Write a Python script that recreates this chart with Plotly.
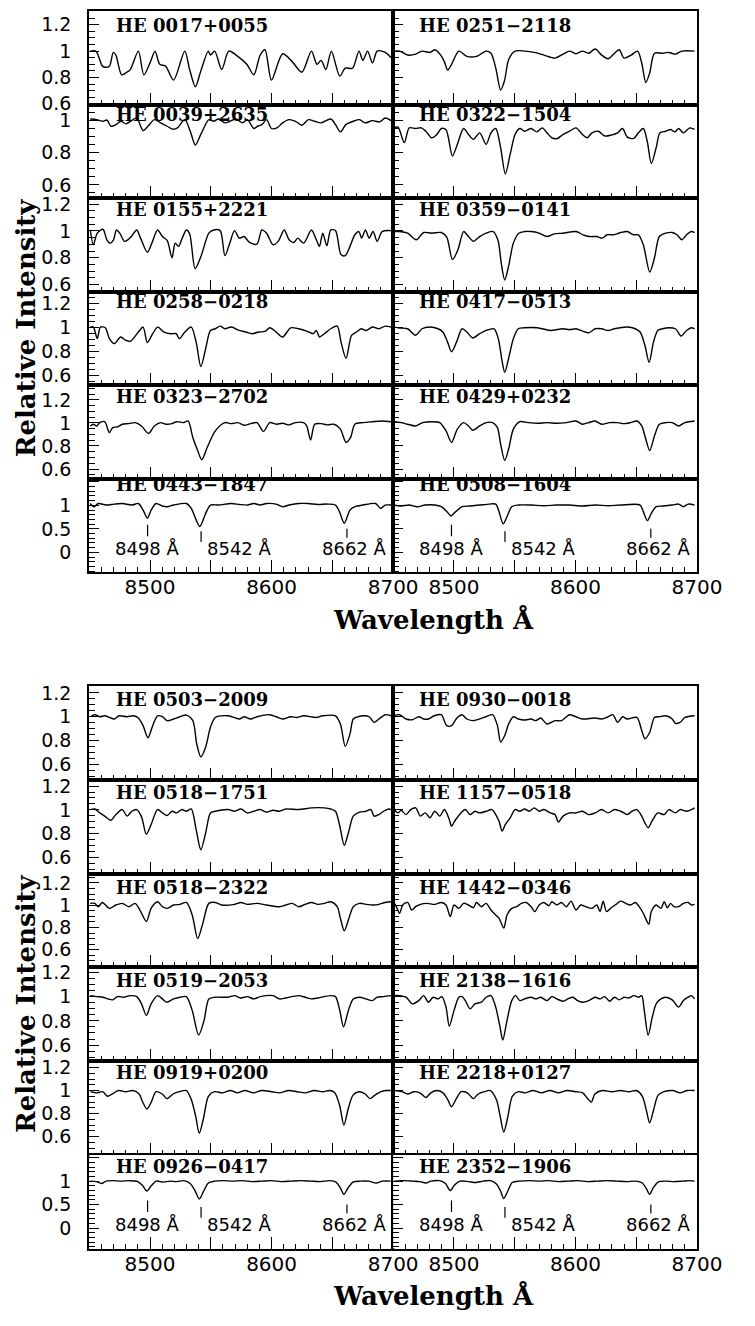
import plotly.graph_objects as go

FIG_W, FIG_H = 755, 1326

# ---------------------------------------------------------------------------
# Spectra: wavelength (Angstrom) and relative intensity for each star
# ---------------------------------------------------------------------------
he0017_wave = [8450.8, 8455.5, 8460.8, 8463.5, 8466.6, 8469.8, 8471.9, 8476.6, 8480.3, 8483.8,
               8490.4, 8494.9, 8500.4, 8504.1, 8508.0, 8512.8, 8519.4, 8528.6, 8532.6, 8537.3,
               8541.8, 8547.9, 8549.7, 8553.2, 8559.0, 8564.8, 8572.2, 8579.6, 8585.4, 8590.6,
               8594.6, 8599.9, 8609.1, 8617.0, 8624.9, 8632.8, 8637.3, 8640.8, 8644.7, 8649.2,
               8656.1, 8660.6, 8666.6, 8671.9, 8675.1, 8679.0, 8683.0, 8686.9, 8693.5, 8698.3]
he0017_flux = [1.000, 1.000, 0.886, 0.878, 0.886, 0.990, 0.970, 0.820, 0.836, 0.860,
               1.000, 0.820, 0.920, 1.000, 0.900, 0.886, 0.780, 1.000, 0.860, 0.730,
               0.850, 1.000, 0.970, 1.000, 0.860, 1.000, 0.960, 0.900, 0.820, 0.970,
               1.010, 0.780, 0.980, 0.920, 0.840, 1.000, 0.900, 0.930, 0.860, 1.000,
               0.810, 0.870, 0.870, 1.000, 0.930, 1.000, 0.910, 1.000, 0.990, 0.950]

he0251_wave = [8450.5, 8455.3, 8461.9, 8468.5, 8473.7, 8480.3, 8484.3, 8489.1, 8492.2, 8494.9,
               8498.0, 8504.1, 8510.7, 8518.6, 8526.5, 8530.5, 8534.4, 8538.4, 8541.6, 8545.0,
               8550.3, 8558.2, 8566.1, 8574.0, 8583.2, 8589.8, 8595.1, 8600.4, 8605.7, 8610.9,
               8616.2, 8621.5, 8626.8, 8632.1, 8636.0, 8640.0, 8645.8, 8651.1, 8654.5, 8657.9,
               8661.1, 8665.0, 8671.6, 8676.9, 8682.2, 8687.5, 8698.0]
he0251_flux = [1.000, 1.000, 0.970, 0.977, 1.000, 0.990, 1.010, 0.970, 0.918, 0.856,
               0.898, 1.000, 0.960, 0.960, 1.000, 0.984, 0.873, 0.705, 0.775, 0.935,
               1.000, 1.000, 0.990, 0.970, 0.947, 0.977, 1.000, 0.980, 1.000, 0.984,
               1.016, 0.970, 0.942, 0.984, 1.010, 0.947, 0.970, 1.000, 0.910, 0.762,
               0.836, 0.984, 0.984, 0.990, 0.977, 1.000, 1.000]

he0039_wave = [8450.8, 8456.1, 8461.3, 8464.5, 8467.9, 8471.9, 8475.9, 8480.3, 8485.1, 8489.1,
               8494.3, 8498.3, 8503.6, 8508.8, 8514.1, 8518.6, 8522.6, 8528.6, 8533.1, 8537.3,
               8541.8, 8548.4, 8552.4, 8556.3, 8561.6, 8565.8, 8570.8, 8576.1, 8580.1, 8585.4,
               8588.5, 8592.0, 8595.9, 8599.9, 8604.4, 8609.1, 8614.4, 8619.7, 8624.9, 8630.2,
               8635.5, 8640.8, 8648.7, 8652.6, 8656.6, 8661.1, 8667.2, 8672.4, 8676.9, 8683.0,
               8688.8, 8693.5, 8698.3]
he0039_flux = [1.010, 1.006, 0.996, 1.004, 0.965, 0.975, 0.996, 0.980, 1.002, 1.016,
               0.938, 0.965, 1.006, 0.986, 0.965, 0.947, 0.955, 1.006, 0.934, 0.848,
               0.914, 1.006, 0.996, 1.010, 0.986, 0.996, 1.010, 0.986, 1.006, 0.951,
               0.965, 0.975, 1.006, 0.951, 0.955, 0.986, 1.006, 0.996, 0.971, 1.006,
               0.996, 0.986, 1.010, 0.975, 0.930, 0.975, 0.996, 1.006, 0.986, 1.000,
               0.992, 1.016, 1.000]

he0322_wave = [8450.5, 8454.0, 8459.2, 8463.2, 8468.5, 8473.2, 8476.9, 8481.7, 8485.6, 8489.6,
               8493.5, 8498.8, 8502.8, 8508.0, 8512.0, 8516.0, 8521.2, 8526.5, 8530.5, 8534.4,
               8538.4, 8542.3, 8546.3, 8550.3, 8554.2, 8558.2, 8563.5, 8568.2, 8572.7, 8576.6,
               8580.6, 8585.1, 8589.8, 8595.1, 8600.4, 8605.7, 8609.6, 8613.6, 8618.9, 8624.1,
               8629.4, 8634.7, 8638.7, 8642.6, 8647.9, 8651.8, 8655.8, 8659.0, 8662.4, 8666.4,
               8669.5, 8674.3, 8678.2, 8681.7, 8684.8, 8688.8, 8694.1, 8698.0]
he0322_flux = [0.955, 0.959, 0.863, 0.955, 0.951, 0.955, 0.934, 0.893, 0.910, 0.951,
               0.943, 0.780, 0.852, 0.951, 0.914, 0.883, 0.924, 0.852, 0.924, 0.951,
               0.832, 0.668, 0.791, 0.914, 0.951, 0.934, 0.951, 0.930, 0.955, 0.924,
               0.893, 0.889, 0.914, 0.934, 0.955, 0.914, 0.893, 0.924, 0.934, 0.904,
               0.910, 0.924, 0.951, 0.897, 0.889, 0.924, 0.951, 0.873, 0.733, 0.832,
               0.924, 0.934, 0.945, 0.930, 0.951, 0.924, 0.955, 0.945]

he0155_wave = [8450.8, 8453.4, 8456.6, 8461.3, 8464.5, 8467.2, 8469.8, 8472.4, 8475.1, 8479.0,
               8482.5, 8485.1, 8489.1, 8492.2, 8497.8, 8501.5, 8506.2, 8510.2, 8514.1, 8518.1,
               8520.7, 8523.4, 8526.5, 8529.9, 8532.6, 8537.1, 8541.8, 8548.4, 8552.4, 8557.7,
               8561.6, 8565.6, 8569.5, 8573.5, 8577.4, 8581.9, 8588.0, 8592.0, 8595.9, 8601.2,
               8605.4, 8610.4, 8614.4, 8618.3, 8621.5, 8626.3, 8632.8, 8636.8, 8639.4, 8642.1,
               8645.5, 8648.7, 8652.6, 8657.1, 8660.6, 8664.5, 8668.5, 8671.9, 8674.0, 8677.2,
               8680.3, 8683.5, 8686.9, 8690.9, 8698.3]
he0155_flux = [1.007, 0.897, 0.983, 1.012, 0.934, 0.909, 0.929, 1.007, 0.983, 0.922,
               0.939, 0.963, 1.007, 0.946, 0.841, 0.909, 1.007, 0.958, 0.929, 0.800,
               0.909, 0.885, 0.946, 1.007, 0.978, 0.719, 0.807, 0.983, 1.007, 1.002,
               0.816, 0.909, 1.002, 0.946, 0.958, 0.914, 0.902, 1.007, 0.983, 0.897,
               0.922, 1.007, 0.934, 0.914, 0.946, 0.909, 1.007, 0.934, 0.885, 0.983,
               0.890, 1.007, 1.002, 0.824, 0.816, 0.885, 0.971, 0.995, 0.946, 1.007,
               0.946, 0.995, 0.922, 0.995, 1.002]

he0359_wave = [8450.5, 8455.3, 8461.9, 8469.0, 8475.1, 8481.7, 8489.6, 8494.1, 8498.8, 8503.3,
               8508.0, 8512.0, 8516.0, 8521.2, 8526.5, 8532.3, 8536.3, 8538.9, 8541.8, 8545.0,
               8548.9, 8553.4, 8558.2, 8563.5, 8570.1, 8576.6, 8582.5, 8589.8, 8600.4, 8606.2,
               8611.5, 8617.5, 8622.0, 8626.0, 8631.5, 8637.3, 8642.6, 8647.9, 8651.8, 8655.8,
               8661.1, 8665.0, 8669.0, 8674.3, 8679.6, 8683.5, 8687.5, 8691.4, 8695.4, 8698.0]
he0359_flux = [0.995, 0.995, 0.983, 0.934, 0.988, 0.983, 0.988, 0.953, 0.787, 0.860,
               0.995, 0.958, 0.922, 0.958, 0.983, 0.995, 0.929, 0.763, 0.635, 0.738,
               0.909, 0.983, 0.995, 0.995, 0.983, 0.958, 0.978, 0.983, 0.995, 0.971,
               0.958, 0.958, 0.946, 0.971, 0.971, 0.988, 0.995, 0.971, 0.971, 0.897,
               0.694, 0.800, 0.958, 0.983, 0.988, 0.971, 0.934, 0.971, 0.995, 0.988]

he0258_wave = [8450.8, 8453.4, 8456.6, 8459.2, 8463.2, 8466.6, 8470.6, 8475.9, 8479.8, 8483.8,
               8490.4, 8494.3, 8497.8, 8502.2, 8506.2, 8511.5, 8516.8, 8521.5, 8524.1, 8528.6,
               8533.9, 8537.9, 8541.8, 8545.8, 8549.7, 8553.7, 8557.7, 8561.6, 8566.9, 8573.5,
               8578.8, 8584.0, 8589.3, 8594.6, 8598.5, 8603.8, 8609.1, 8615.7, 8622.3, 8628.9,
               8634.2, 8636.8, 8639.4, 8643.4, 8648.7, 8654.0, 8657.1, 8661.3, 8665.8, 8669.8,
               8673.7, 8677.7, 8683.0, 8688.3, 8693.5, 8698.3]
he0258_flux = [1.003, 1.003, 0.907, 1.003, 0.997, 0.907, 0.866, 0.921, 0.894, 0.885,
               0.962, 1.003, 0.875, 0.948, 1.003, 0.962, 0.948, 0.948, 0.907, 0.962,
               1.003, 0.880, 0.675, 0.825, 0.975, 0.989, 1.011, 0.989, 1.003, 0.975,
               0.962, 0.948, 0.962, 0.967, 0.997, 0.962, 0.921, 0.997, 0.989, 0.970,
               0.948, 0.975, 0.921, 0.948, 0.989, 1.011, 0.880, 0.744, 0.935, 0.962,
               0.989, 0.975, 1.003, 0.989, 1.011, 1.003]

he0417_wave = [8450.5, 8455.3, 8461.9, 8468.5, 8473.7, 8480.3, 8486.9, 8490.9, 8494.9, 8498.0,
               8502.2, 8506.7, 8510.7, 8515.4, 8521.2, 8526.5, 8533.1, 8536.5, 8539.7, 8541.8,
               8545.0, 8548.9, 8552.9, 8558.2, 8568.7, 8579.3, 8589.8, 8595.1, 8600.4, 8605.7,
               8610.9, 8616.2, 8621.5, 8626.8, 8632.1, 8642.6, 8649.2, 8653.2, 8657.1, 8660.6,
               8664.2, 8667.7, 8671.6, 8676.9, 8682.2, 8686.9, 8691.4, 8695.4, 8698.0]
he0417_flux = [1.003, 0.995, 0.989, 0.935, 0.989, 1.003, 0.989, 0.962, 0.875, 0.798,
               0.880, 0.989, 0.962, 0.913, 0.948, 0.975, 0.989, 0.907, 0.716, 0.629,
               0.744, 0.907, 0.989, 0.997, 0.997, 0.975, 0.989, 0.981, 0.989, 0.970,
               0.956, 0.989, 0.989, 0.975, 0.989, 1.003, 0.989, 0.962, 0.853, 0.711,
               0.880, 0.975, 0.989, 0.997, 0.989, 0.929, 0.975, 0.997, 0.989]

he0323_wave = [8450.8, 8453.4, 8456.1, 8458.7, 8462.7, 8466.6, 8469.3, 8473.2, 8477.2, 8482.5,
               8487.7, 8493.0, 8498.8, 8503.6, 8508.8, 8512.8, 8518.1, 8522.0, 8527.3, 8531.3,
               8535.2, 8539.2, 8542.6, 8547.1, 8553.7, 8561.6, 8566.9, 8572.2, 8577.4, 8582.7,
               8588.0, 8593.3, 8598.5, 8603.8, 8609.1, 8614.4, 8619.7, 8626.3, 8628.9, 8632.1,
               8635.5, 8640.8, 8646.0, 8651.3, 8656.6, 8661.3, 8665.0, 8668.5, 8675.1, 8683.0,
               8690.9, 8698.3]
he0323_flux = [0.974, 0.989, 0.974, 1.003, 1.011, 0.917, 0.960, 0.966, 0.989, 0.994,
               1.003, 0.974, 0.909, 0.974, 1.003, 0.989, 0.994, 1.011, 1.003, 1.017,
               0.874, 0.760, 0.680, 0.789, 0.931, 1.003, 0.994, 1.003, 0.980, 0.994,
               1.003, 0.926, 1.003, 0.989, 0.997, 0.983, 1.003, 1.003, 0.974, 0.851,
               0.989, 0.994, 0.983, 0.989, 0.946, 0.831, 0.874, 0.989, 1.003, 1.011,
               1.017, 1.011]

he0429_wave = [8450.5, 8456.6, 8461.9, 8468.5, 8474.3, 8481.7, 8488.3, 8493.5, 8498.0, 8502.8,
               8508.0, 8512.0, 8515.4, 8521.2, 8526.5, 8531.8, 8535.8, 8538.4, 8541.8, 8545.0,
               8548.9, 8554.2, 8560.8, 8568.7, 8576.6, 8584.6, 8592.5, 8600.4, 8605.7, 8610.9,
               8616.2, 8621.5, 8628.1, 8634.7, 8640.0, 8645.3, 8650.5, 8654.5, 8657.1, 8661.1,
               8665.0, 8669.0, 8674.3, 8679.6, 8684.8, 8690.1, 8698.0]
he0429_flux = [1.011, 1.003, 0.989, 0.974, 1.003, 1.011, 1.003, 0.931, 0.831, 0.946,
               1.003, 0.974, 0.937, 0.974, 1.003, 1.003, 0.960, 0.817, 0.674, 0.774,
               0.946, 1.011, 1.003, 0.997, 1.003, 0.997, 1.003, 1.017, 0.989, 1.003,
               1.017, 0.989, 1.003, 1.003, 0.994, 1.003, 1.017, 0.974, 0.889, 0.760,
               0.889, 0.989, 1.003, 1.003, 0.974, 1.003, 1.017]

he0443_wave = [8450.8, 8454.0, 8457.4, 8464.0, 8470.6, 8477.2, 8485.1, 8490.4, 8494.3, 8497.8,
               8500.9, 8504.9, 8510.2, 8514.1, 8519.4, 8529.9, 8533.9, 8537.9, 8541.0, 8545.8,
               8549.7, 8556.3, 8566.9, 8573.5, 8580.1, 8585.4, 8590.6, 8595.9, 8603.8, 8609.1,
               8614.4, 8622.3, 8630.2, 8638.1, 8646.0, 8652.6, 8655.8, 8659.8, 8664.5, 8668.5,
               8675.1, 8685.6, 8689.6, 8693.5, 8698.3]
he0443_flux = [1.040, 0.970, 1.040, 1.007, 1.028, 1.040, 1.007, 1.040, 0.900, 0.726,
               0.900, 1.040, 0.986, 0.972, 1.007, 1.040, 0.937, 0.691, 0.550, 0.830,
               1.007, 1.007, 1.040, 1.020, 1.007, 1.040, 1.007, 1.040, 1.028, 0.972,
               1.007, 1.040, 1.040, 1.020, 1.028, 1.007, 0.867, 0.621, 0.900, 0.972,
               1.007, 1.040, 0.937, 1.007, 1.007]

he0508_wave = [8450.5, 8456.6, 8463.2, 8469.8, 8476.4, 8484.3, 8489.6, 8494.3, 8497.5, 8501.5,
               8506.7, 8513.3, 8521.2, 8529.2, 8534.4, 8537.1, 8540.5, 8543.7, 8547.6, 8552.9,
               8563.5, 8574.0, 8584.6, 8595.1, 8605.7, 8616.2, 8626.8, 8637.3, 8653.2, 8655.8,
               8659.2, 8662.4, 8666.4, 8671.6, 8679.6, 8684.8, 8688.8, 8692.7, 8698.0]
he0508_flux = [1.007, 0.986, 1.007, 0.972, 1.007, 1.007, 0.972, 0.867, 0.775, 0.867,
               0.972, 0.986, 1.007, 1.028, 1.028, 0.867, 0.607, 0.761, 0.972, 1.007,
               1.007, 0.993, 1.007, 1.007, 0.986, 1.007, 0.993, 1.007, 1.007, 0.867,
               0.677, 0.832, 0.972, 0.986, 1.007, 1.028, 0.972, 1.028, 1.007]

he0503_wave = [8450.8, 8454.7, 8458.7, 8462.7, 8466.6, 8470.6, 8474.5, 8481.1, 8486.4, 8490.4,
               8494.3, 8498.3, 8502.2, 8506.2, 8510.2, 8514.1, 8519.4, 8524.7, 8529.9, 8535.2,
               8538.4, 8541.8, 8545.8, 8549.7, 8553.7, 8564.2, 8573.5, 8577.4, 8582.7, 8588.0,
               8598.5, 8603.8, 8609.1, 8615.7, 8621.0, 8626.3, 8636.8, 8642.1, 8652.6, 8656.6,
               8660.6, 8664.5, 8667.2, 8671.1, 8676.4, 8680.3, 8684.3, 8688.3, 8693.5, 8698.3]
he0503_flux = [1.000, 1.017, 1.000, 1.008, 0.994, 0.981, 1.008, 1.000, 1.008, 0.989,
               0.925, 0.823, 0.925, 1.008, 1.000, 0.967, 0.981, 1.000, 1.014, 0.967,
               0.773, 0.663, 0.746, 0.911, 0.994, 1.008, 0.981, 1.000, 0.981, 1.000,
               1.017, 1.000, 0.981, 1.000, 0.994, 1.008, 0.994, 1.008, 1.008, 0.939,
               0.751, 0.856, 0.981, 1.000, 1.008, 1.000, 0.953, 0.981, 1.017, 1.008]

he0930_wave = [8450.5, 8455.3, 8460.6, 8465.8, 8471.1, 8475.1, 8479.0, 8483.8, 8489.6, 8494.1,
               8498.0, 8502.8, 8506.7, 8510.7, 8516.0, 8522.6, 8526.5, 8531.8, 8535.8, 8538.4,
               8541.8, 8545.0, 8548.9, 8552.9, 8558.2, 8563.5, 8567.4, 8571.4, 8576.6, 8583.2,
               8588.5, 8595.1, 8600.4, 8605.7, 8616.2, 8621.5, 8626.8, 8630.7, 8634.7, 8638.7,
               8642.6, 8650.5, 8654.5, 8657.1, 8661.1, 8665.0, 8669.0, 8674.3, 8679.6, 8682.2,
               8686.1, 8690.1, 8698.0]
he0930_flux = [1.008, 1.017, 0.981, 0.975, 1.000, 0.981, 0.981, 1.008, 1.017, 0.925,
               0.925, 0.994, 1.017, 0.981, 0.967, 0.986, 1.000, 1.017, 0.925, 0.787,
               0.842, 0.939, 1.000, 0.981, 0.972, 0.981, 0.967, 0.989, 0.939, 0.967,
               0.967, 1.017, 1.000, 0.981, 0.989, 0.981, 1.000, 1.017, 0.953, 1.000,
               0.981, 0.994, 0.884, 0.815, 0.870, 0.994, 1.000, 1.008, 0.981, 0.945,
               0.953, 0.994, 1.008]

he0518a_wave = [8450.8, 8454.7, 8458.7, 8462.7, 8467.9, 8471.9, 8477.2, 8481.1, 8485.1, 8489.1,
                8493.0, 8497.0, 8500.9, 8506.2, 8510.2, 8514.1, 8518.1, 8522.0, 8526.0, 8529.9,
                8533.9, 8537.9, 8541.8, 8545.8, 8549.7, 8553.7, 8564.2, 8569.5, 8574.8, 8580.1,
                8585.4, 8590.6, 8595.9, 8601.2, 8606.5, 8611.7, 8622.3, 8632.8, 8643.4, 8648.7,
                8652.6, 8656.1, 8659.8, 8663.2, 8667.2, 8672.4, 8677.7, 8681.7, 8684.3, 8688.3,
                8692.2, 8696.2, 8698.3]
he0518a_flux = [1.003, 1.008, 0.975, 0.948, 0.914, 0.961, 1.003, 0.948, 0.989, 1.003,
                0.942, 0.796, 0.878, 1.003, 0.975, 0.953, 0.989, 0.975, 1.003, 0.989,
                1.008, 0.837, 0.666, 0.809, 0.975, 0.989, 1.003, 0.989, 1.008, 0.975,
                0.989, 1.003, 0.981, 0.997, 0.989, 1.008, 1.003, 1.017, 1.017, 1.008,
                0.989, 0.865, 0.704, 0.809, 0.948, 0.981, 0.989, 1.003, 0.948, 0.961,
                0.989, 1.008, 1.003]

he1157_wave = [8450.5, 8454.0, 8456.6, 8460.6, 8464.5, 8468.5, 8472.4, 8476.4, 8480.3, 8484.3,
               8488.3, 8492.2, 8496.2, 8498.0, 8501.5, 8505.4, 8509.4, 8513.3, 8517.3, 8521.2,
               8526.5, 8531.3, 8534.4, 8537.1, 8539.7, 8542.3, 8546.3, 8550.3, 8554.2, 8558.2,
               8562.1, 8566.1, 8570.1, 8574.0, 8579.3, 8583.2, 8585.9, 8589.8, 8595.1, 8600.4,
               8605.7, 8610.9, 8616.2, 8621.5, 8626.8, 8632.1, 8637.3, 8642.6, 8646.6, 8650.5,
               8654.5, 8657.1, 8659.8, 8663.7, 8667.7, 8673.0, 8676.9, 8682.2, 8686.1, 8691.4,
               8698.0]
he1157_flux = [1.003, 0.975, 0.997, 0.961, 1.003, 1.017, 0.948, 0.975, 0.934, 0.989,
               0.948, 1.003, 0.920, 0.865, 0.920, 0.970, 1.003, 0.961, 0.989, 0.975,
               0.989, 1.003, 0.961, 0.906, 0.823, 0.878, 0.934, 1.003, 0.989, 1.008,
               0.989, 1.017, 0.989, 1.003, 0.975, 0.961, 0.898, 0.948, 0.975, 0.975,
               0.989, 0.961, 0.975, 1.003, 0.975, 1.003, 0.989, 0.961, 0.989, 1.003,
               0.948, 0.892, 0.851, 0.920, 0.975, 0.961, 1.003, 0.975, 1.003, 0.989,
               1.017]

he0518b_wave = [8450.8, 8454.7, 8457.4, 8460.8, 8466.6, 8471.9, 8477.2, 8482.5, 8487.7, 8491.7,
                8497.0, 8500.9, 8506.2, 8510.2, 8514.1, 8519.4, 8524.7, 8529.9, 8534.7, 8539.2,
                8543.1, 8548.4, 8553.7, 8559.0, 8569.5, 8574.8, 8580.1, 8588.0, 8595.9, 8606.5,
                8611.7, 8617.0, 8622.3, 8627.6, 8632.8, 8638.1, 8643.4, 8648.7, 8654.0, 8656.6,
                8659.8, 8664.5, 8667.2, 8672.4, 8677.7, 8684.3, 8688.3, 8693.5, 8698.3]
he0518b_flux = [1.017, 1.017, 0.987, 1.025, 0.972, 1.002, 1.017, 0.987, 1.017, 0.957,
                0.854, 0.972, 1.031, 0.987, 0.972, 1.002, 1.008, 1.025, 0.913, 0.700,
                0.824, 1.017, 1.025, 1.002, 1.008, 1.025, 1.008, 1.017, 1.002, 0.987,
                1.002, 1.017, 0.987, 1.008, 1.025, 1.008, 1.017, 1.031, 0.987, 0.884,
                0.771, 0.913, 0.987, 1.017, 1.008, 1.002, 1.008, 1.025, 1.031]

he1442_wave = [8450.5, 8452.6, 8455.3, 8457.9, 8461.9, 8465.3, 8468.5, 8472.4, 8477.7, 8484.3,
               8489.6, 8493.5, 8497.0, 8500.1, 8504.1, 8508.0, 8512.0, 8516.0, 8518.6, 8522.6,
               8526.5, 8530.5, 8534.4, 8537.1, 8541.0, 8543.7, 8547.6, 8551.6, 8555.5, 8559.5,
               8563.5, 8566.6, 8570.1, 8574.0, 8578.0, 8580.6, 8584.6, 8588.5, 8592.5, 8596.4,
               8600.4, 8604.4, 8608.3, 8613.6, 8617.5, 8620.2, 8622.8, 8625.5, 8629.4, 8633.4,
               8637.3, 8641.3, 8645.3, 8649.2, 8652.4, 8655.8, 8660.3, 8662.4, 8666.4, 8670.3,
               8673.0, 8675.6, 8678.2, 8680.9, 8684.8, 8688.8, 8692.7, 8695.4, 8698.0]
he1442_flux = [1.031, 0.987, 0.928, 1.002, 1.025, 0.957, 0.987, 1.008, 1.017, 1.008,
               1.025, 1.002, 0.898, 1.002, 0.972, 1.017, 1.002, 0.978, 1.025, 0.987,
               1.017, 0.957, 0.913, 0.884, 0.795, 0.913, 0.972, 0.987, 1.017, 1.025,
               0.987, 0.943, 1.002, 1.025, 0.996, 1.031, 1.002, 1.025, 0.987, 1.037,
               0.957, 1.002, 0.987, 0.972, 1.002, 0.943, 1.037, 0.943, 0.978, 1.008,
               1.037, 1.017, 1.002, 1.025, 0.987, 0.928, 0.830, 0.943, 1.002, 0.972,
               1.031, 0.978, 1.017, 0.987, 0.987, 1.017, 1.025, 1.002, 1.008]

he0519_wave = [8450.8, 8456.1, 8461.3, 8465.3, 8469.3, 8473.2, 8478.5, 8483.8, 8489.1, 8493.0,
               8497.0, 8500.9, 8506.2, 8510.2, 8513.6, 8519.4, 8524.7, 8529.9, 8534.7, 8540.0,
               8544.5, 8548.4, 8553.7, 8564.2, 8569.5, 8574.8, 8580.1, 8585.4, 8590.6, 8601.2,
               8606.5, 8611.7, 8622.3, 8627.6, 8632.8, 8638.1, 8648.7, 8652.6, 8656.1, 8659.2,
               8663.2, 8667.2, 8672.4, 8677.7, 8683.0, 8686.9, 8692.2, 8698.3]
he0519_flux = [1.009, 1.001, 0.996, 0.982, 0.974, 1.001, 0.996, 1.009, 1.001, 0.941,
               0.846, 0.941, 1.009, 0.982, 0.955, 0.982, 0.996, 1.001, 0.887, 0.682,
               0.805, 0.982, 0.996, 0.996, 1.009, 0.990, 1.001, 0.982, 1.001, 1.009,
               0.982, 0.990, 1.009, 0.996, 0.982, 0.990, 1.009, 1.001, 0.887, 0.750,
               0.887, 0.982, 0.996, 0.982, 0.968, 0.996, 1.001, 1.009]

he2138_wave = [8450.5, 8455.3, 8460.6, 8465.8, 8471.1, 8475.1, 8479.0, 8483.0, 8486.9, 8490.1,
               8493.5, 8496.2, 8500.1, 8504.1, 8506.7, 8509.4, 8513.3, 8517.3, 8522.6, 8526.5,
               8530.5, 8534.4, 8537.9, 8540.2, 8543.7, 8547.6, 8550.8, 8554.2, 8558.2, 8563.5,
               8567.4, 8571.4, 8576.6, 8580.6, 8584.6, 8589.8, 8593.8, 8597.8, 8601.7, 8605.7,
               8610.9, 8616.2, 8620.2, 8624.1, 8628.1, 8632.1, 8636.0, 8640.0, 8643.9, 8647.9,
               8651.8, 8654.5, 8656.6, 8659.8, 8663.2, 8666.4, 8670.3, 8674.3, 8679.6, 8684.8,
               8688.8, 8692.7, 8695.4, 8698.0]
he2138_flux = [1.009, 1.009, 0.996, 0.941, 0.968, 1.009, 0.955, 0.996, 0.982, 1.001,
               0.914, 0.756, 0.887, 0.996, 1.001, 0.968, 0.900, 0.941, 0.955, 0.996,
               1.009, 0.914, 0.750, 0.641, 0.805, 0.968, 1.009, 0.968, 0.982, 0.996,
               0.982, 0.996, 0.968, 1.001, 0.982, 0.963, 0.982, 0.996, 0.968, 0.955,
               0.968, 0.996, 0.982, 1.001, 0.963, 0.996, 0.974, 0.996, 0.990, 1.009,
               0.996, 1.009, 0.887, 0.682, 0.832, 0.941, 0.982, 0.996, 0.974, 0.914,
               0.968, 0.996, 1.009, 0.982]

he0919_wave = [8451.0, 8456.0, 8461.0, 8465.0, 8469.0, 8474.0, 8480.0, 8486.0, 8491.0, 8494.0,
               8497.5, 8501.0, 8505.0, 8510.0, 8514.0, 8519.0, 8524.0, 8530.0, 8534.0, 8537.5,
               8540.5, 8544.0, 8548.0, 8553.0, 8560.0, 8566.0, 8572.0, 8578.0, 8585.0, 8592.0,
               8600.0, 8607.0, 8614.0, 8621.0, 8628.0, 8635.0, 8642.0, 8648.0, 8652.0, 8656.0,
               8659.5, 8663.0, 8667.0, 8672.0, 8677.0, 8681.0, 8685.0, 8690.0, 8694.0, 8698.0]
he0919_flux = [0.99, 0.98, 0.99, 0.95, 0.97, 1.00, 0.99, 1.00, 0.97, 0.90,
               0.84, 0.90, 0.99, 0.97, 0.93, 0.97, 0.99, 1.00, 0.92, 0.78,
               0.63, 0.76, 0.95, 0.99, 0.98, 1.00, 0.98, 1.00, 0.98, 1.00,
               0.99, 0.98, 1.00, 0.99, 0.98, 1.00, 0.99, 1.00, 0.98, 0.87,
               0.70, 0.84, 0.96, 0.99, 0.97, 0.93, 0.96, 0.99, 1.00, 1.00]

he2218_wave = [8451.0, 8457.0, 8462.0, 8467.0, 8472.0, 8477.0, 8481.0, 8486.0, 8491.0, 8495.0,
               8498.0, 8502.0, 8506.0, 8511.0, 8516.0, 8520.0, 8525.0, 8530.0, 8535.0, 8538.0,
               8541.0, 8544.5, 8548.0, 8553.0, 8559.0, 8565.0, 8572.0, 8579.0, 8586.0, 8593.0,
               8600.0, 8606.0, 8610.0, 8613.0, 8616.0, 8622.0, 8630.0, 8637.0, 8644.0, 8650.0,
               8655.0, 8658.5, 8661.0, 8664.0, 8668.0, 8673.0, 8680.0, 8686.0, 8692.0, 8698.0]
he2218_flux = [1.00, 0.99, 0.97, 0.99, 0.98, 0.94, 0.98, 1.00, 0.98, 0.92,
               0.86, 0.93, 0.99, 0.98, 0.93, 0.97, 0.99, 1.00, 0.92, 0.78,
               0.64, 0.78, 0.95, 0.99, 0.98, 1.00, 0.98, 1.00, 0.98, 1.00,
               0.99, 0.98, 0.93, 0.90, 0.97, 1.00, 0.99, 1.00, 0.99, 1.00,
               0.95, 0.82, 0.72, 0.82, 0.96, 0.99, 1.00, 0.98, 1.00, 1.00]

he0926_wave = [8451.0, 8456.0, 8460.0, 8464.0, 8470.0, 8476.0, 8483.0, 8490.0, 8494.0, 8497.5,
               8501.0, 8505.0, 8511.0, 8516.0, 8522.0, 8528.0, 8533.0, 8537.0, 8540.5, 8544.0,
               8548.0, 8553.0, 8560.0, 8568.0, 8576.0, 8584.0, 8592.0, 8600.0, 8608.0, 8616.0,
               8624.0, 8632.0, 8640.0, 8648.0, 8653.0, 8656.5, 8659.5, 8663.0, 8667.0, 8673.0,
               8680.0, 8686.0, 8691.0, 8698.0]
he0926_flux = [1.00, 0.99, 0.95, 1.00, 1.01, 1.00, 1.01, 0.99, 0.90, 0.79,
               0.90, 1.00, 0.98, 1.00, 0.99, 1.01, 0.95, 0.80, 0.62, 0.78,
               0.96, 1.00, 1.01, 1.00, 1.01, 0.99, 1.00, 1.01, 0.99, 1.00,
               1.01, 1.00, 0.99, 1.01, 0.98, 0.86, 0.72, 0.86, 0.98, 1.00,
               1.00, 0.96, 1.00, 1.00]

he2352_wave = [8451.0, 8458.0, 8466.0, 8472.0, 8477.0, 8481.0, 8488.0, 8493.0, 8497.0, 8500.5,
               8505.0, 8512.0, 8518.0, 8524.0, 8530.0, 8535.0, 8538.5, 8541.0, 8544.5, 8548.0,
               8554.0, 8562.0, 8570.0, 8578.0, 8586.0, 8594.0, 8602.0, 8610.0, 8618.0, 8626.0,
               8634.0, 8642.0, 8650.0, 8655.0, 8658.5, 8661.0, 8664.0, 8668.0, 8674.0, 8681.0,
               8688.0, 8694.0, 8698.0]
he2352_flux = [1.00, 1.01, 1.00, 0.99, 0.96, 1.00, 1.01, 0.95, 0.80, 0.92,
               1.00, 0.99, 0.97, 1.00, 1.01, 0.94, 0.78, 0.63, 0.80, 0.97,
               1.00, 1.01, 1.00, 1.01, 0.99, 1.00, 1.01, 0.99, 1.00, 1.01,
               1.00, 0.99, 1.00, 0.96, 0.83, 0.72, 0.86, 0.98, 1.00, 0.99,
               1.00, 1.01, 1.00]

# ---------------------------------------------------------------------------
# Panel arrangement: two blocks of 6 rows x 2 columns
# ---------------------------------------------------------------------------
UPPER_BLOCK = [
    [("HE 0017+0055", he0017_wave, he0017_flux), ("HE 0251−2118", he0251_wave, he0251_flux)],
    [("HE 0039+2635", he0039_wave, he0039_flux), ("HE 0322−1504", he0322_wave, he0322_flux)],
    [("HE 0155+2221", he0155_wave, he0155_flux), ("HE 0359−0141", he0359_wave, he0359_flux)],
    [("HE 0258−0218", he0258_wave, he0258_flux), ("HE 0417−0513", he0417_wave, he0417_flux)],
    [("HE 0323−2702", he0323_wave, he0323_flux), ("HE 0429+0232", he0429_wave, he0429_flux)],
    [("HE 0443−1847", he0443_wave, he0443_flux), ("HE 0508−1604", he0508_wave, he0508_flux)],
]
LOWER_BLOCK = [
    [("HE 0503−2009", he0503_wave, he0503_flux), ("HE 0930−0018", he0930_wave, he0930_flux)],
    [("HE 0518−1751", he0518a_wave, he0518a_flux), ("HE 1157−0518", he1157_wave, he1157_flux)],
    [("HE 0518−2322", he0518b_wave, he0518b_flux), ("HE 1442−0346", he1442_wave, he1442_flux)],
    [("HE 0519−2053", he0519_wave, he0519_flux), ("HE 2138−1616", he2138_wave, he2138_flux)],
    [("HE 0919+0200", he0919_wave, he0919_flux), ("HE 2218+0127", he2218_wave, he2218_flux)],
    [("HE 0926−0417", he0926_wave, he0926_flux), ("HE 2352−1906", he2352_wave, he2352_flux)],
]

UPPER_YRANGES = [[0.592, 1.301], [0.516, 1.098], [0.547, 1.242],
                 [0.521, 1.295], [0.516, 1.327], [-0.423, 1.568]]
LOWER_YRANGES = [[0.471, 1.258], [0.467, 1.253], [0.443, 1.285],
                 [0.468, 1.244], [0.443, 1.256], [-0.436, 1.562]]

# wavelength axis
WAVE_RANGE = [8450, 8700]

# Ca II triplet markers in the bottom row of each block
CA_LINES = [8498, 8542, 8662]
CA_LABELS = ["8498 Å", "8542 Å", "8662 Å"]
CA_MARK_TOP = [0.59, 0.45, 0.50]
CA_MARK_BOTTOM = [0.34, 0.22, 0.31]
CA_LABEL_X = [8498, 8545, 8668]
CA_LABEL_ANCHOR = ["center", "left", "center"]
CA_LABEL_Y = 0.08

# ---------------------------------------------------------------------------
# Geometry (pixels) and styling
# ---------------------------------------------------------------------------
COL_EDGES = [(92.3, 406.6), (406.6, 720.9)]
UPPER_TOP, UPPER_ROW_H = 5.5, 94.6
LOWER_TOP, LOWER_ROW_H = 688.3, 94.9
UPPER_NAME_OFFSET = [14.0, 9.4, 11.0, 9.5, 11.5, 6.0]
LOWER_NAME_OFFSET = [13.2, 13.0, 13.7, 13.2, 12.0, 12.2]

X_TICK_FONT = dict(family="DejaVu Sans", size=20, color="black")
Y_TICK_FONT = dict(family="DejaVu Sans", size=19, color="black")
NAME_FONT = dict(family="DejaVu Serif", size=18, color="black", weight="bold")
TITLE_FONT = dict(family="DejaVu Serif", size=26, color="black", weight="bold")
CA_FONT = dict(family="DejaVu Sans", size=18, color="black")


def fx(px):
    return px / FIG_W


def fy(px):
    return 1 - px / FIG_H


fig = go.Figure()
layout = dict(
    width=FIG_W, height=FIG_H,
    margin=dict(l=0, r=0, t=0, b=0),
    paper_bgcolor="white", plot_bgcolor="white",
    showlegend=False,
)
annotations = []
shapes = []

idx = 0
for block, top, row_h, yranges, name_off in (
        (UPPER_BLOCK, UPPER_TOP, UPPER_ROW_H, UPPER_YRANGES, UPPER_NAME_OFFSET),
        (LOWER_BLOCK, LOWER_TOP, LOWER_ROW_H, LOWER_YRANGES, LOWER_NAME_OFFSET)):
    n_rows = len(block)
    for r, row in enumerate(block):
        y_top = top + r * row_h
        y_bot = y_top + row_h
        last_row = (r == n_rows - 1)
        for c, (name, wave, flux) in enumerate(row):
            idx += 1
            sx = "" if idx == 1 else str(idx)
            xname, yname = "x" + sx, "y" + sx

            fig.add_trace(go.Scatter(
                x=wave, y=flux, mode="lines", xaxis=xname, yaxis=yname,
                line=dict(color="black", width=1.4, shape="spline", smoothing=0.8),
                hoverinfo="skip", showlegend=False,
            ))

            x0, x1 = COL_EDGES[c]
            layout["xaxis" + sx] = dict(
                domain=[fx(x0), fx(x1)], anchor=yname, range=WAVE_RANGE,
                tickmode="linear", tick0=8450, dtick=50,
                labelalias={"8450": "", "8550": "", "8650": ""},
                showticklabels=last_row, tickfont=X_TICK_FONT, ticklabelstandoff=-4,
                ticks="inside", ticklen=12, tickwidth=1.2, tickcolor="black",
                minor=dict(tickmode="linear", tick0=8450, dtick=10, ticks="inside",
                           ticklen=5, tickwidth=1.2, tickcolor="black"),
                showline=True, linewidth=2, linecolor="black", mirror=True,
                showgrid=False, zeroline=False, fixedrange=True,
            )
            if last_row:
                major, minor_step, alias = 0.5, 0.1, {"1.5": "", "−0.5": ""}
            else:
                major, minor_step, alias = 0.2, 0.05, {}
            layout["yaxis" + sx] = dict(
                domain=[fy(y_bot), fy(y_top)], anchor=xname, range=yranges[r],
                tickmode="linear", tick0=0, dtick=major, labelalias=alias,
                showticklabels=(c == 0), tickfont=Y_TICK_FONT, ticklabelstandoff=12,
                ticks="inside", ticklen=10, tickwidth=1.2, tickcolor="black",
                minor=dict(tickmode="linear", tick0=0, dtick=minor_step, ticks="inside",
                           ticklen=6, tickwidth=1.2, tickcolor="black"),
                showline=True, linewidth=2, linecolor="black", mirror=True,
                showgrid=False, zeroline=False, fixedrange=True,
            )

            # star designation
            annotations.append(dict(
                text=name, xref=xname, yref=yname + " domain",
                x=8470, y=1 - name_off[r] / row_h, xanchor="left", yanchor="middle",
                showarrow=False, font=NAME_FONT,
            ))

            # Ca II triplet markers
            if last_row:
                for lam, lab, ytop, ybot, lx, anchor in zip(
                        CA_LINES, CA_LABELS, CA_MARK_TOP, CA_MARK_BOTTOM,
                        CA_LABEL_X, CA_LABEL_ANCHOR):
                    shapes.append(dict(type="line", xref=xname, yref=yname,
                                       x0=lam, x1=lam, y0=ybot, y1=ytop,
                                       line=dict(color="black", width=1.2)))
                    annotations.append(dict(
                        text=lab, xref=xname, yref=yname, x=lx, y=CA_LABEL_Y,
                        xanchor=anchor, yanchor="middle", showarrow=False, font=CA_FONT,
                    ))

# axis titles for each block
for y_title, y_xlabel in ((326, 621), (1010, 1306)):
    annotations.append(dict(
        text="Relative Intensity", xref="paper", yref="paper",
        x=fx(27), y=fy(y_title), xanchor="center", yanchor="middle",
        textangle=-90, showarrow=False, font=TITLE_FONT,
    ))
    annotations.append(dict(
        text="Wavelength Å", xref="paper", yref="paper",
        x=fx(448), y=fy(y_xlabel), xanchor="center", yanchor="middle",
        showarrow=False, font=TITLE_FONT,
    ))

layout["annotations"] = annotations
layout["shapes"] = shapes
fig.update_layout(**layout)

fig.write_html("out.html", config={"displayModeBar": False})
